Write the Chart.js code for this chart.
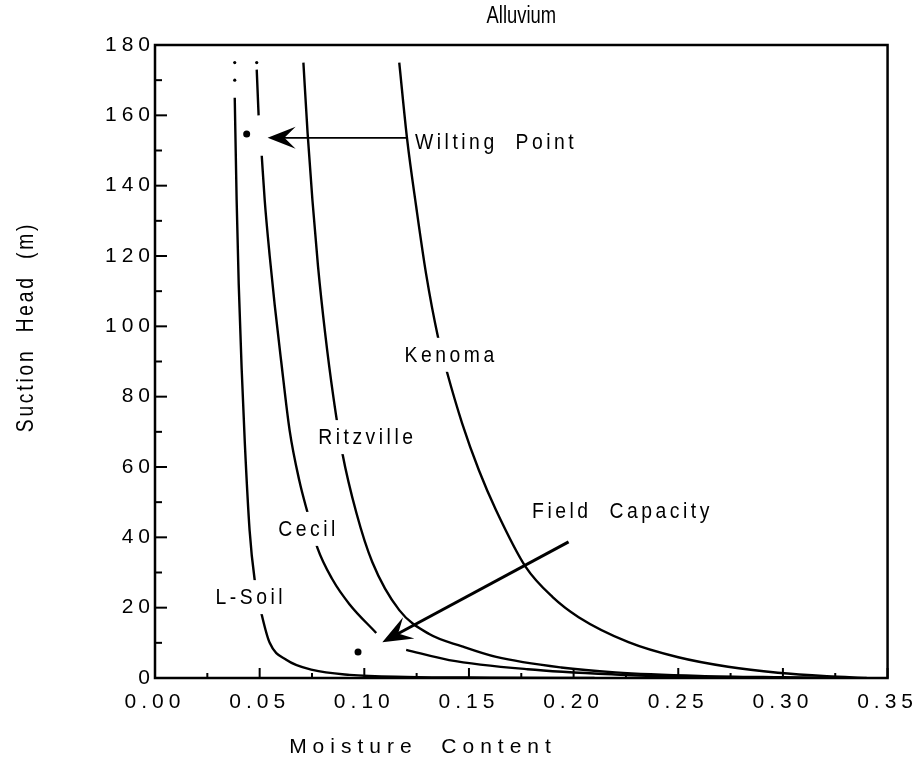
<!DOCTYPE html>
<html>
<head>
<meta charset="utf-8">
<script src="https://cdn.jsdelivr.net/npm/chart.js@4.4.1/dist/chart.umd.min.js"></script>
<style>
  html, body { margin: 0; padding: 0; background: #fff; }
  #wrap { width: 920px; height: 760px; }
</style>
</head>
<body>
<div id="wrap"><canvas id="chart"></canvas></div>
<script>
const FONT = '"Liberation Sans", Arial, Helvetica, sans-serif';

// axis ticks
const xTicks = [0, 0.05, 0.10, 0.15, 0.20, 0.25, 0.30, 0.35];
const yTicks = [0, 20, 40, 60, 80, 100, 120, 140, 160, 180];

// retention curves (moisture content vs suction head)
const lsoilX = [0.0381, 0.039, 0.040, 0.0414, 0.0429, 0.0452, 0.0476, 0.051, 0.0548, 0.0629, 0.0752, 0.093, 0.12, 0.16, 0.21];
const lsoilY = [165, 136, 112, 88, 67, 42, 28, 18, 10, 5.1, 2.3, 0.9, 0.3, 0.1, 0];

const cecilX = [0.0486, 0.0495, null, 0.051, 0.0524, 0.0548, 0.0572, 0.0603, 0.0643, 0.069, 0.0729, 0.0776, 0.0848, 0.0929, 0.1057, null, 0.12, 0.1405, 0.178, 0.22, 0.26];
const cecilY = [173, 160, null, 148.5, 136, 120, 106, 90, 70.5, 56, 47, 37, 28, 21, 12.8, null, 8, 5.1, 2.5, 1, 0.2];

const ritzX = [0.0709, 0.0729, 0.0752, 0.0779, 0.0813, 0.0852, 0.0895, 0.0962, 0.1038, 0.1167, 0.131, 0.1467, 0.163, 0.194, 0.22, 0.26, 0.30, 0.33];
const ritzY = [175, 155, 136, 117, 98, 80, 64, 47, 33, 19.3, 12.5, 9, 6, 3, 1.6, 0.6, 0.2, 0];

const kenomaX = [0.1167, 0.1205, 0.1248, 0.1295, 0.1352, 0.1395, 0.1467, 0.1548, 0.1629, 0.1771, 0.19, 0.2024, 0.2262, 0.25, 0.2738, 0.2976, 0.321, 0.34];
const kenomaY = [175, 153, 134, 115, 97, 87, 72.5, 59, 47.8, 31.6, 23, 17.3, 10.2, 5.9, 3.2, 1.5, 0.5, 0];

// wilting point and field capacity markers
const markX = [0.0438, 0.097];
const markY = [154.7, 7.4];
// small dots above the curve tops
const dotX = [0.0381, 0.0381, 0.0486];
const dotY = [175, 170, 175];

// curve labels
const labelText = ['Kenoma', 'Ritzville', 'Cecil', 'L-Soil', 'Wilting  Point', 'Field  Capacity'];
const labelX = [0.1405, 0.1005, 0.0724, 0.0448, 0.162, 0.2224];
const labelY = [91.9, 68.5, 42.4, 23, 152.4, 47.5];
const labelBox = [true, true, true, true, false, false];

// arrows: tail -> tip
const arrowFrom = [[0.1205, 153.6], [0.1976, 38.7]];
const arrowTo = [[0.0538, 153.6], [0.1086, 10.2]];

const pts = (xs, ys) => xs.map((v, i) => ({ x: v, y: ys[i] }));

function curve(label, xs, ys) {
  return {
    label: label,
    data: pts(xs, ys),
    showLine: true,
    borderColor: '#000',
    borderWidth: 2.4,
    pointRadius: 0,
    cubicInterpolationMode: 'monotone',
    spanGaps: false
  };
}

function drawArrow(ctx, x0, y0, x1, y1, lw, L, W) {
  const dx = x1 - x0, dy = y1 - y0;
  const len = Math.hypot(dx, dy);
  const ux = dx / len, uy = dy / len;
  const nx = -uy, ny = ux;
  ctx.lineWidth = lw;
  ctx.beginPath();
  ctx.moveTo(x0, y0);
  ctx.lineTo(x1 - ux * L * 0.5, y1 - uy * L * 0.5);
  ctx.stroke();
  ctx.beginPath();
  ctx.moveTo(x1, y1);
  ctx.lineTo(x1 - ux * L + nx * W, y1 - uy * L + ny * W);
  ctx.lineTo(x1 - ux * L * 0.6, y1 - uy * L * 0.6);
  ctx.lineTo(x1 - ux * L - nx * W, y1 - uy * L - ny * W);
  ctx.closePath();
  ctx.fill();
}

// text squeezed horizontally, like the narrow typeface of the original
function narrowText(ctx, t, px, py, sx, rot) {
  ctx.save();
  ctx.translate(px, py);
  if (rot) ctx.rotate(rot);
  ctx.scale(sx, 1);
  ctx.fillText(t, 0, 0);
  ctx.restore();
}

const overlay = {
  id: 'overlay',
  beforeDraw(chart) {
    chart.ctx.letterSpacing = '5px';
  },
  afterDraw(chart) {
    const { ctx, chartArea: a, scales: { x, y } } = chart;
    ctx.save();
    ctx.letterSpacing = '0px';
    ctx.strokeStyle = '#000';
    ctx.fillStyle = '#000';

    // frame
    ctx.lineWidth = 2.5;
    ctx.strokeRect(a.left, a.top, a.right - a.left, a.bottom - a.top);

    // inward tick marks
    ctx.lineWidth = 2;
    const seg = (x0, y0, x1, y1) => { ctx.beginPath(); ctx.moveTo(x0, y0); ctx.lineTo(x1, y1); ctx.stroke(); };
    yTicks.forEach((v, i) => {
      const py = y.getPixelForValue(v);
      seg(a.left, py, a.left + 12, py);
      if (i < yTicks.length - 1) {
        const pm = y.getPixelForValue((v + yTicks[i + 1]) / 2);
        seg(a.left, pm, a.left + 7, pm);
      }
    });
    xTicks.forEach((v, i) => {
      const px = x.getPixelForValue(v);
      seg(px, a.bottom, px, a.bottom - 10);
      if (i < xTicks.length - 1) {
        const pm = x.getPixelForValue((v + xTicks[i + 1]) / 2);
        seg(pm, a.bottom, pm, a.bottom - 5);
      }
    });

    // curve labels
    const sx = 0.88;
    ctx.font = '22px ' + FONT;
    ctx.letterSpacing = '4px';
    ctx.textAlign = 'center';
    ctx.textBaseline = 'middle';
    labelText.forEach((t, i) => {
      const px = x.getPixelForValue(labelX[i]);
      const py = y.getPixelForValue(labelY[i]);
      const w = ctx.measureText(t).width * sx;
      if (labelBox[i]) {
        ctx.fillStyle = '#fff';
        ctx.fillRect(px - w / 2 - 4, py - 17, w + 8, 34);
      }
      ctx.fillStyle = '#000';
      narrowText(ctx, t, px + 2, py + 1, sx, 0);
    });

    // arrows
    drawArrow(ctx, x.getPixelForValue(arrowFrom[0][0]), y.getPixelForValue(arrowFrom[0][1]),
      x.getPixelForValue(arrowTo[0][0]), y.getPixelForValue(arrowTo[0][1]), 1.8, 28, 11);
    drawArrow(ctx, x.getPixelForValue(arrowFrom[1][0]), y.getPixelForValue(arrowFrom[1][1]),
      x.getPixelForValue(arrowTo[1][0]), y.getPixelForValue(arrowTo[1][1]), 3, 30, 12);

    // titles
    ctx.letterSpacing = '0px';
    ctx.font = '23px ' + FONT;
    narrowText(ctx, 'Alluvium', (a.left + a.right) / 2, 17, 0.8, 0);

    ctx.font = '21px ' + FONT;
    ctx.letterSpacing = '6px';
    ctx.fillText('Moisture  Content', 423, 747);

    ctx.font = '24px ' + FONT;
    ctx.letterSpacing = '3.5px';
    narrowText(ctx, 'Suction  Head  (m)', 26, 327, 0.8, -Math.PI / 2);

    ctx.restore();
  }
};

new Chart(document.getElementById('chart'), {
  type: 'scatter',
  data: {
    datasets: [
      curve('L-Soil', lsoilX, lsoilY),
      curve('Cecil', cecilX, cecilY),
      curve('Ritzville', ritzX, ritzY),
      curve('Kenoma', kenomaX, kenomaY),
      {
        label: 'Points',
        data: pts(markX, markY),
        pointRadius: 3.5,
        pointBackgroundColor: '#000',
        pointBorderWidth: 0
      },
      {
        label: 'Dots',
        data: pts(dotX, dotY),
        pointRadius: 1.6,
        pointBackgroundColor: '#000',
        pointBorderWidth: 0
      }
    ]
  },
  options: {
    responsive: true,
    maintainAspectRatio: false,
    animation: false,
    layout: { padding: { top: 45, right: 30, left: 0, bottom: 0 } },
    plugins: {
      legend: { display: false },
      tooltip: { enabled: false }
    },
    scales: {
      x: {
        type: 'linear',
        min: 0,
        max: 0.35,
        afterBuildTicks: s => { s.ticks = xTicks.map(v => ({ value: v })); },
        afterFit: s => { s.height = 82; },
        grid: { display: false, drawTicks: false },
        border: { display: false },
        ticks: {
          color: '#000',
          padding: 12,
          maxRotation: 0,
          font: { family: FONT, size: 21 },
          callback: v => Number(v).toFixed(2)
        }
      },
      y: {
        type: 'linear',
        min: 0,
        max: 180,
        afterBuildTicks: s => { s.ticks = yTicks.map(v => ({ value: v })); },
        afterFit: s => { s.width = 155; },
        grid: { display: false, drawTicks: false },
        border: { display: false },
        ticks: {
          color: '#000',
          padding: 0,
          font: { family: FONT, size: 21 },
          callback: v => String(v)
        }
      }
    }
  },
  plugins: [overlay]
});
</script>
</body>
</html>
